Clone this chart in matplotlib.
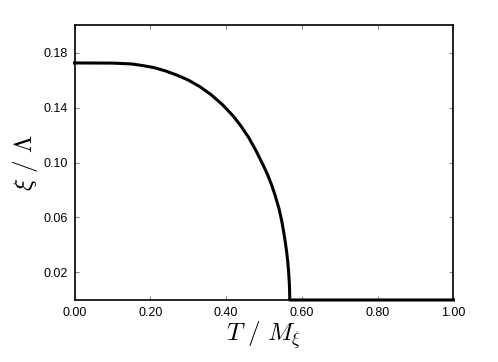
import matplotlib
matplotlib.use("Agg")
import matplotlib.pyplot as plt

# values
T_over_M = [0.00, 0.10, 0.15, 0.18, 0.21, 0.24, 0.27, 0.30, 0.33, 0.36,
            0.39, 0.42, 0.44, 0.46, 0.48, 0.50, 0.51, 0.52, 0.53, 0.54,
            0.547, 0.552, 0.556, 0.560, 0.563, 0.565, 0.567, 0.5675, 0.568,
            0.80, 1.00]
xi_over_L = [0.1724, 0.1723, 0.1717, 0.1705, 0.1690, 0.1666, 0.1636, 0.1600,
             0.1553, 0.1494, 0.1422, 0.1334, 0.1262, 0.1180, 0.1080, 0.0968,
             0.0908, 0.0838, 0.0755, 0.0660, 0.0572, 0.0495, 0.0425, 0.0345,
             0.0270, 0.0205, 0.0115, 0.0080, 0.0, 0.0, 0.0]

x_ticks = [0.0, 0.2, 0.4, 0.6, 0.8, 1.0]
x_labels = ["0.00", "0.20", "0.40", "0.60", "0.80", "1.00"]
y_ticks = [0.02, 0.06, 0.10, 0.14, 0.18]
y_labels = ["0.02", "0.06", "0.10", "0.14", "0.18"]

plt.rcParams["font.family"] = ["Liberation Sans", "DejaVu Sans"]
plt.rcParams["mathtext.fontset"] = "cm"

fig = plt.figure(figsize=(4.98, 3.62), dpi=100)
ax = fig.add_axes([0.1496, 0.1713, 0.7610, 0.7596])

ax.plot(T_over_M, xi_over_L, color="black", linewidth=2.2,
        solid_joinstyle="round", clip_on=False)

ax.set_xlim(0, 1)
ax.set_ylim(0, 0.2)
ax.set_xticks(x_ticks)
ax.set_xticklabels(x_labels)
ax.set_yticks(y_ticks)
ax.set_yticklabels(y_labels)
ax.tick_params(direction="in", length=3, width=0.8, color="#888888",
               labelsize=9, top=True, right=True, pad=5)

for s in ax.spines.values():
    s.set_linewidth(1.2)

ax.set_xlabel(r"$T\ /\ M_\xi$", fontsize=18, labelpad=0)
ax.set_ylabel(r"$\xi\ /\ \Lambda$", fontsize=18, labelpad=2)

fig.savefig("out.png", dpi=100)
